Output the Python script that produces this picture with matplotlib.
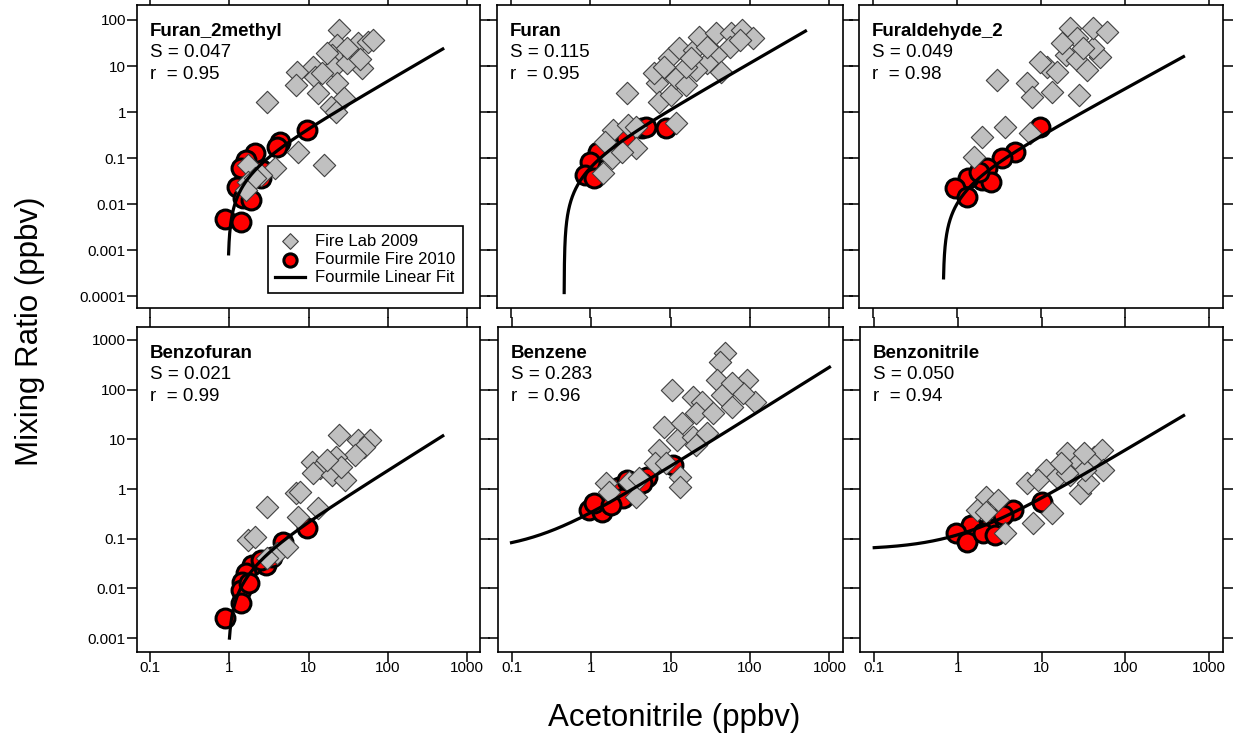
import numpy as np
import matplotlib
matplotlib.use('Agg')
import matplotlib.pyplot as plt
from matplotlib.ticker import FixedLocator, FuncFormatter

plt.rcParams['font.family'] = ['Liberation Sans', 'DejaVu Sans']

# panel names and stats
names = ['Furan_2methyl', 'Furan', 'Furaldehyde_2', 'Benzofuran', 'Benzene', 'Benzonitrile']
slopes_txt = ['0.047', '0.115', '0.049', '0.021', '0.283', '0.050']
r_txt = ['0.95', '0.95', '0.98', '0.99', '0.96', '0.94']

# Fire Lab 2009 (acetonitrile, compound) in ppbv
furan2m_lab_x = [24, 42, 57, 65, 23, 20, 28, 37, 21, 48, 11.5, 7.2, 12, 6.9, 13, 23, 28, 19, 22, 3.0,
                 7.4, 15.5, 3.8, 1.7, 2.5, 1.7, 2.1, 1.6, 31, 17, 15, 31, 45]
furan2m_lab_y = [60, 32, 33, 37, 29, 17, 17, 17, 9.5, 9, 9.5, 7.4, 5.8, 3.9, 2.6, 4.3, 2.0, 1.3, 1.0, 1.65,
                 0.135, 0.07, 0.06, 0.07, 0.043, 0.03, 0.037, 0.02, 11.7, 19, 7, 25, 14]
furan_lab_x = [2.9, 6.9, 7.2, 10.3, 12, 16, 9.7, 13, 20, 23, 38, 59, 81, 110, 56, 38, 29, 44, 21, 16,
               18.5, 29, 6.3, 8.4, 75, 12, 1.95, 3.0, 3.8, 3.7, 1.55, 1.85, 1.45, 2.5]
furan_lab_y = [2.6, 4.3, 1.65, 2.3, 5.5, 3.9, 15, 25, 22, 43, 52, 52, 60, 41, 26, 17, 11.7, 7.4, 8.2, 9.5,
               15, 26, 7, 9.5, 37, 0.58, 0.41, 0.52, 0.47, 0.165, 0.22, 0.1, 0.047, 0.135]
furald_lab_x = [3.0, 6.8, 7.8, 13.5, 28, 11.8, 15.5, 20, 27, 35, 50, 42, 22, 27, 42, 61, 18, 32,
                2.0, 3.7, 1.6, 7.4, 9.7]
furald_lab_y = [5, 4.3, 2.1, 2.7, 2.3, 9.5, 7.4, 17, 13.5, 8.2, 16, 25, 67, 41, 67, 55, 32, 25,
                0.29, 0.47, 0.105, 0.35, 12]
bzfuran_lab_x = [3.0, 6.9, 7.9, 7.4, 13, 1.7, 2.1, 11, 14, 11.5, 24, 42, 60, 50, 39, 22, 20, 29,
                 25.5, 17, 4.0, 3.0, 5.4]
bzfuran_lab_y = [0.44, 0.83, 0.87, 0.27, 0.41, 0.094, 0.11, 3.5, 2.6, 2.1, 12, 9.7, 9.7, 7, 4.8, 4.4, 1.9, 1.5,
                 2.8, 3.8, 0.051, 0.041, 0.068]
benzene_lab_x = [48, 42, 38, 91, 10.3, 19, 25, 45, 60, 115, 81, 21, 34, 8.4, 14, 12, 19, 29, 7.2, 21,
                 6.3, 13, 13, 1.55, 1.7, 3.0, 3.7, 4.0, 8.9, 60]
benzene_lab_y = [550, 360, 155, 155, 98, 71, 56, 78, 45, 56, 85, 34, 34, 18, 21, 9.7, 11, 13.5, 6, 7.7,
                 3.3, 1.75, 1.1, 1.3, 0.87, 1.4, 0.69, 1.65, 3.3, 135]
bznitr_lab_x = [2.15, 3.0, 1.7, 3.7, 6.8, 8.0, 13.5, 11.2, 15.5, 20, 27, 22, 29, 36, 42, 53, 55, 33,
                20, 17, 9, 32, 2.15]
bznitr_lab_y = [0.69, 0.6, 0.38, 0.13, 1.3, 0.21, 0.33, 2.4, 1.75, 5.3, 3.3, 1.9, 0.83, 1.3, 4.4, 6.1, 2.4, 2.4,
                2.1, 3.3, 1.5, 5.3, 0.35]

# Fourmile Fire 2010
furan2m_fm_x = [9.7, 4.4, 2.1, 1.6, 2.6, 1.38, 1.26, 2.5, 1.5, 1.85, 0.89, 1.4, 4.0]
furan2m_fm_y = [0.41, 0.22, 0.13, 0.09, 0.055, 0.06, 0.023, 0.037, 0.0135, 0.012, 0.0047, 0.004, 0.17]
furan_fm_x = [8.9, 4.4, 2.4, 1.26, 1.0, 0.87, 1.1, 2.8, 5.0]
furan_fm_y = [0.45, 0.45, 0.165, 0.135, 0.08, 0.043, 0.037, 0.27, 0.47]
furald_fm_x = [9.8, 4.9, 3.4, 2.3, 2.0, 1.35, 0.95, 1.3, 2.5, 1.8]
furald_fm_y = [0.47, 0.135, 0.1, 0.06, 0.033, 0.037, 0.022, 0.014, 0.03, 0.05]
bzfuran_fm_x = [9.7, 4.7, 2.9, 1.95, 1.6, 1.45, 1.38, 1.75, 1.38, 0.89, 3.5, 2.5]
bzfuran_fm_y = [0.165, 0.085, 0.03, 0.03, 0.02, 0.0135, 0.0093, 0.013, 0.005, 0.0025, 0.043, 0.037]
benzene_fm_x = [10.6, 5.0, 4.4, 2.25, 0.94, 1.38, 1.1, 2.5, 1.8, 2.8]
benzene_fm_y = [3.0, 1.75, 1.3, 1.1, 0.38, 0.35, 0.52, 0.66, 0.48, 1.5]
bznitr_fm_x = [10.2, 4.6, 3.5, 2.3, 1.43, 0.95, 1.3, 2.0, 2.8]
bznitr_fm_y = [0.55, 0.38, 0.3, 0.165, 0.19, 0.13, 0.085, 0.13, 0.118]

# linear fit lines as drawn: slope, intercept, x range
fit_slope = [0.047, 0.115, 0.032, 0.0235, 0.283, 0.060]
fit_int = [-0.045, -0.054, -0.0218, -0.0225, 0.055, 0.060]
fit_xmin = [0.975, 0.4706, 0.689, 1.0, 0.1, 0.1]
fit_xmax = [500, 500, 500, 500, 1000, 500]

lab_x = [furan2m_lab_x, furan_lab_x, furald_lab_x, bzfuran_lab_x, benzene_lab_x, bznitr_lab_x]
lab_y = [furan2m_lab_y, furan_lab_y, furald_lab_y, bzfuran_lab_y, benzene_lab_y, bznitr_lab_y]
fm_x = [furan2m_fm_x, furan_fm_x, furald_fm_x, bzfuran_fm_x, benzene_fm_x, bznitr_fm_x]
fm_y = [furan2m_fm_y, furan_fm_y, furald_fm_y, bzfuran_fm_y, benzene_fm_y, bznitr_fm_y]

xticks = [0.1, 1, 10, 100, 1000]
yticks_top = [0.0001, 0.001, 0.01, 0.1, 1, 10, 100]
yticks_bot = [0.001, 0.01, 0.1, 1, 10, 100, 1000]

W, H = 1240, 742
fig = plt.figure(figsize=(W / 100, H / 100), dpi=100)

# panel boxes in pixels (x0, x1, y0, y1), y from top
boxes = [(137, 480, 5, 308), (497, 843, 5, 308), (859, 1223, 5, 308),
         (137, 480, 327, 652), (498, 843, 327, 652), (860, 1223, 327, 652)]

fmt = FuncFormatter(lambda v, p: '%g' % v)

for i in range(6):
    x0, x1, y0, y1 = boxes[i]
    ax = fig.add_axes([x0 / W, (H - y1) / H, (x1 - x0) / W, (y1 - y0) / H])
    ax.set_xscale('log')
    ax.set_yscale('log')
    ax.set_xlim(0.1 / 10**0.17, 1000 * 10**0.17)
    if i < 3:
        ax.set_ylim(10**-4.26, 10**2.326)
        yt = yticks_top
    else:
        ax.set_ylim(10**-3.28, 10**3.26)
        yt = yticks_bot
    ax.xaxis.set_major_locator(FixedLocator(xticks))
    ax.yaxis.set_major_locator(FixedLocator(yt))
    ax.xaxis.set_minor_locator(FixedLocator([]))
    ax.yaxis.set_minor_locator(FixedLocator([]))
    ax.xaxis.set_major_formatter(fmt)
    ax.yaxis.set_major_formatter(fmt)
    ax.tick_params(which='major', direction='out', length=7.5, width=1.1,
                   top=True, right=True, labelsize=11,
                   labelbottom=(i >= 3), labelleft=(i % 3 == 0))
    ax.tick_params(axis='x', pad=-1)
    ax.tick_params(axis='y', pad=0.5)
    for s in ax.spines.values():
        s.set_linewidth(1.2)

    h_fm = ax.scatter(fm_x[i], fm_y[i], s=185, marker='o', facecolor='#ff0000',
                      edgecolor='black', linewidth=2.2, zorder=2)
    h_lab = ax.scatter(lab_x[i], lab_y[i], s=130, marker='D', facecolor='#c0c0c0',
                       edgecolor='#404040', linewidth=0.8, zorder=3)
    xf = np.logspace(np.log10(fit_xmin[i]), np.log10(fit_xmax[i]), 3000)
    yf = fit_slope[i] * xf + fit_int[i]
    h_fit, = ax.plot(xf, yf, color='black', linewidth=2.3, zorder=4)

    ax.annotate(names[i], xy=(0, 1), xycoords='axes fraction', xytext=(13, -18),
                textcoords='offset pixels', ha='left', va='top', fontsize=13.5, fontweight='bold')
    ax.annotate('S = ' + slopes_txt[i], xy=(0, 1), xycoords='axes fraction', xytext=(13, -39),
                textcoords='offset pixels', ha='left', va='top', fontsize=13.5)
    ax.annotate('r  = ' + r_txt[i], xy=(0, 1), xycoords='axes fraction', xytext=(13, -61),
                textcoords='offset pixels', ha='left', va='top', fontsize=13.5)

    if i == 0:
        leg = ax.legend([h_lab, h_fm, h_fit],
                        ['Fire Lab 2009', 'Fourmile Fire 2010', 'Fourmile Linear Fit'],
                        loc='lower right', bbox_to_anchor=(0.95, 0.05), borderaxespad=0,
                        fontsize=12, fancybox=False, edgecolor='black', framealpha=1,
                        markerscale=0.7, handlelength=1.8, handletextpad=0.6,
                        labelspacing=0.2, borderpad=0.45)
        leg.get_frame().set_linewidth(1.2)

fig.text(30 / W, 1 - 331 / H, 'Mixing Ratio (ppbv)', rotation=90, ha='center', va='center', fontsize=22.5)
fig.text(674 / W, 1 - 718 / H, 'Acetonitrile (ppbv)', ha='center', va='center', fontsize=22.5)

fig.savefig('out.png', dpi=100)
